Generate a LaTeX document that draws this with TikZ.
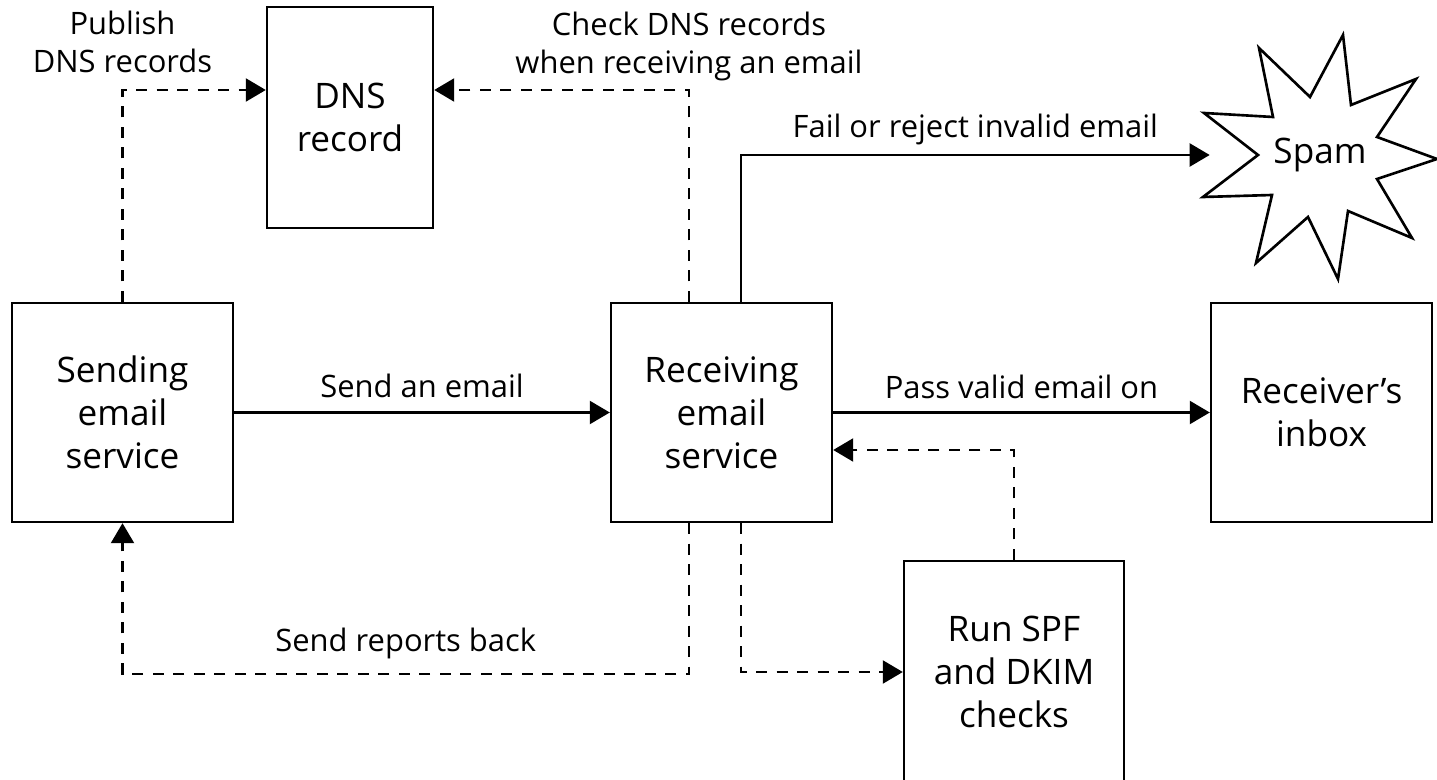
\documentclass[tikz,border=0pt]{standalone}
\usepackage{fontspec}
\setmainfont{Open Sans}
\usetikzlibrary{arrows.meta,positioning,calc}

\tikzset{
  box/.style={draw, line width=1.4pt, align=center, minimum width=4.42cm, minimum height=4.38cm, font=\fontsize{20}{24.5}\selectfont},
  conn/.style={line width=1.3pt, -{Triangle[length=0.4cm,width=0.46cm]}},
  dashconn/.style={conn, dash pattern=on 0.22cm off 0.19cm},
  lbl/.style={anchor=base, inner sep=0pt}
}

\begin{document}
\begin{tikzpicture}[x=0.02cm, y=-0.02cm, font=\fontsize{17.6}{21.6}\selectfont]
    \useasboundingbox (0,0) rectangle (1437,780);

    % Boxes
    \node[box] (send) at (122.5,412.5) {Sending\\email\\service};
    \node[box] (recv) at (721.5,412.5) {Receiving\\email\\service};
    \node[box] (inbox) at (1321.5,412.5) {Receiver’s\\inbox};
    \node[box, minimum width=3.32cm, minimum height=4.42cm] (dns) at (350,117.5) {DNS\\record};
    \node[box, minimum width=4.4cm, minimum height=4.44cm] (spf) at (1014,672) {Run SPF\\and DKIM\\checks};

    % Spam star
    \draw[line width=1.5pt, line join=miter] (1343,35) -- (1351,105) -- (1416,79) -- (1377,137) -- (1437,159)
        -- (1377,179) -- (1412,238) -- (1348,211) -- (1338,279) -- (1308,217) -- (1256,263)
        -- (1272,195) -- (1203,197) -- (1258,155) -- (1204,113) -- (1273,117) -- (1259,48)
        -- (1310,97) -- cycle;
    \node[minimum width=4.4cm, font=\fontsize{20}{24.5}\selectfont] (spam) at (1320,155) {Spam};

    % Main path
    \draw[conn] (send) -- node[lbl, yshift=0.3cm] {Send an email} (recv);
    \draw[conn] (recv) -- node[lbl, yshift=0.28cm] {Pass valid email on} (inbox);
    \draw[conn] ([xshift=0.39cm]recv.north) |- node[lbl, pos=0.75, yshift=0.36cm] {Fail or reject invalid email} (spam.west);

    % DNS lookups
    \draw[dashconn] (send.north) |- node[pos=0.5, above=0.2cm, align=center] {Publish\\DNS records} (dns.west |- 0,90);
    \draw[dashconn] ([xshift=-0.65cm]recv.north) |- node[pos=0.5, above=0.05cm, align=center] {Check DNS records\\when receiving an email} (dns.east |- 0,90);

    % Checks and reports
    \draw[dashconn] ([xshift=0.39cm]recv.south) |- (spf.west);
    \draw[dashconn] (spf.north) |- ([yshift=-0.75cm]recv.east);
    \draw[dashconn] ([xshift=-0.65cm]recv.south) -- ++(0,151) -| node[lbl, pos=0.25, yshift=0.46cm] {Send reports back} (send.south);

\end{tikzpicture}
\end{document}
